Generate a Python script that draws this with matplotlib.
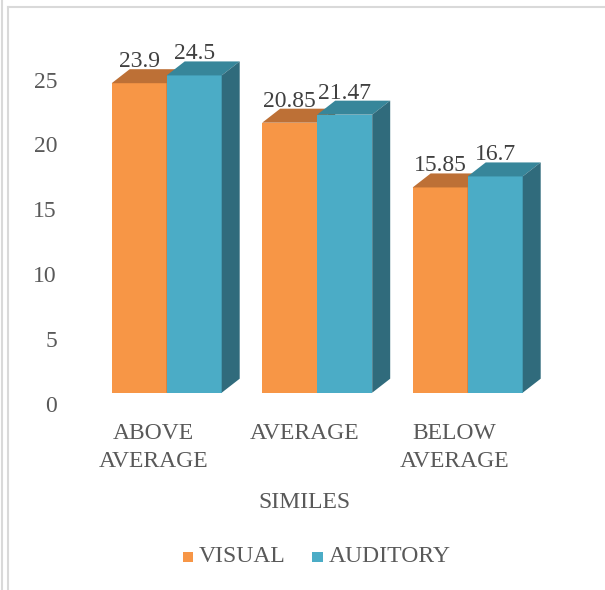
import matplotlib.pyplot as plt
from matplotlib.patches import Polygon, Rectangle
from matplotlib.lines import Line2D
import numpy as np

categories = ['ABOVE\nAVERAGE', 'AVERAGE', 'BELOW\nAVERAGE']
visual = [23.9, 20.85, 15.85]
auditory = [24.5, 21.47, 16.7]
value_labels_visual = ['23.9', '20.85', '15.85']
value_labels_auditory = ['24.5', '21.47', '16.7']
y_ticks = [0, 5, 10, 15, 20, 25]
axis_title = 'SIMILES'
series_names = ['VISUAL', 'AUDITORY']

ORANGE = '#F79646'
ORANGE_TOP = '#BD7036'
ORANGE_SIDE = '#9C5A2B'
BLUE = '#4BACC6'
BLUE_TOP = '#37869A'
BLUE_SIDE = '#306B7C'
TEXT = '#595959'
BORDER = '#D9D9D9'
FS = 17

W, H, DPI = 605, 590, 100
PX_X = 150.5   # pixels per category step
PX_Y = 12.95   # pixels per value unit
X0 = 166.7     # pixel x of the first group centre
Y0 = 392.7     # pixel y (from top) of the zero line

plt.rcParams['font.family'] = ['Liberation Serif', 'DejaVu Serif']

fig = plt.figure(figsize=(W / DPI, H / DPI), dpi=DPI)
ax = fig.add_axes([0, 0, 1, 1])
ax.set_xlim(-X0 / PX_X, (W - X0) / PX_X)
ax.set_ylim(-(H - Y0) / PX_Y, Y0 / PX_Y)
ax.axis('off')

bw = 55.0 / PX_X        # bar width in category units
dx = 18.0 / PX_X        # depth offset, horizontal
dy = 14.0 / PX_Y        # depth offset, vertical


def draw_bar3d(x_left, v, front, top, side):
    ax.bar(x_left, v, width=bw, align='edge', color=front, linewidth=0, zorder=2)
    x_right = x_left + bw
    ax.add_patch(Polygon([(x_left, v), (x_left + dx, v + dy), (x_right + dx, v + dy), (x_right, v)],
                         closed=True, facecolor=top, edgecolor='none', zorder=2))
    ax.add_patch(Polygon([(x_right, 0), (x_right + dx, dy), (x_right + dx, v + dy), (x_right, v)],
                         closed=True, facecolor=side, edgecolor='none', zorder=2))


idx = np.arange(len(categories))
for i in idx:
    draw_bar3d(i - bw, visual[i], ORANGE, ORANGE_TOP, ORANGE_SIDE)
    draw_bar3d(i, auditory[i], BLUE, BLUE_TOP, BLUE_SIDE)

# value labels sit just above the back edge of each top face
lab_off = dy + 2.0 / PX_Y
for i in idx:
    ax.text(i - bw / 2, visual[i] + lab_off, value_labels_visual[i], ha='center', va='baseline',
            fontsize=FS, color='#404040', zorder=3)
    ax.text(i + bw / 2, auditory[i] + lab_off, value_labels_auditory[i], ha='center', va='baseline',
            fontsize=FS, color='#404040', zorder=3)

# y tick labels (drawn a little below their values, on the chart floor)
tick_x = (57.0 - X0) / PX_X
for t in y_ticks:
    ax.text(tick_x, t - 13.3 / PX_Y, str(t), ha='right', va='center', fontsize=FS, color=TEXT)

# category labels, hung from the same top line
for i, c in enumerate(categories):
    ax.text(i - 13.0 / PX_X, -(423 - Y0) / PX_Y, c, ha='center', va='top', fontsize=FS,
            color=TEXT, linespacing=1.45)

ax.text(1 - 13.0 / PX_X, -(503 - Y0) / PX_Y, axis_title, ha='center', va='center',
        fontsize=FS, color=TEXT)

# legend
def px(x, y):
    return ((x - X0) / PX_X, (Y0 - y) / PX_Y)

leg_y = 557
for (sq_x, txt_x), name, col in zip([(182.5, 199.0), (312.0, 328.5)], series_names, [ORANGE, BLUE]):
    x0, y0 = px(sq_x, leg_y + 5)
    x1, y1 = px(sq_x + 10.5, leg_y - 5)
    ax.add_patch(Rectangle((x0, y0), x1 - x0, y1 - y0, facecolor=col, edgecolor='none'))
    tx, ty = px(txt_x, leg_y)
    ax.text(tx, ty, name, ha='left', va='center', fontsize=FS, color=TEXT)

# chart frame
fig.add_artist(Line2D([1.5 / W, 1.5 / W], [0, 1], color=BORDER, lw=1.5))
fig.add_artist(Line2D([8 / W, 8 / W], [0, 1 - 7 / H], color=BORDER, lw=1.5))
fig.add_artist(Line2D([8 / W, 1], [1 - 7 / H, 1 - 7 / H], color=BORDER, lw=1.5))

fig.savefig('out.png', dpi=DPI)
